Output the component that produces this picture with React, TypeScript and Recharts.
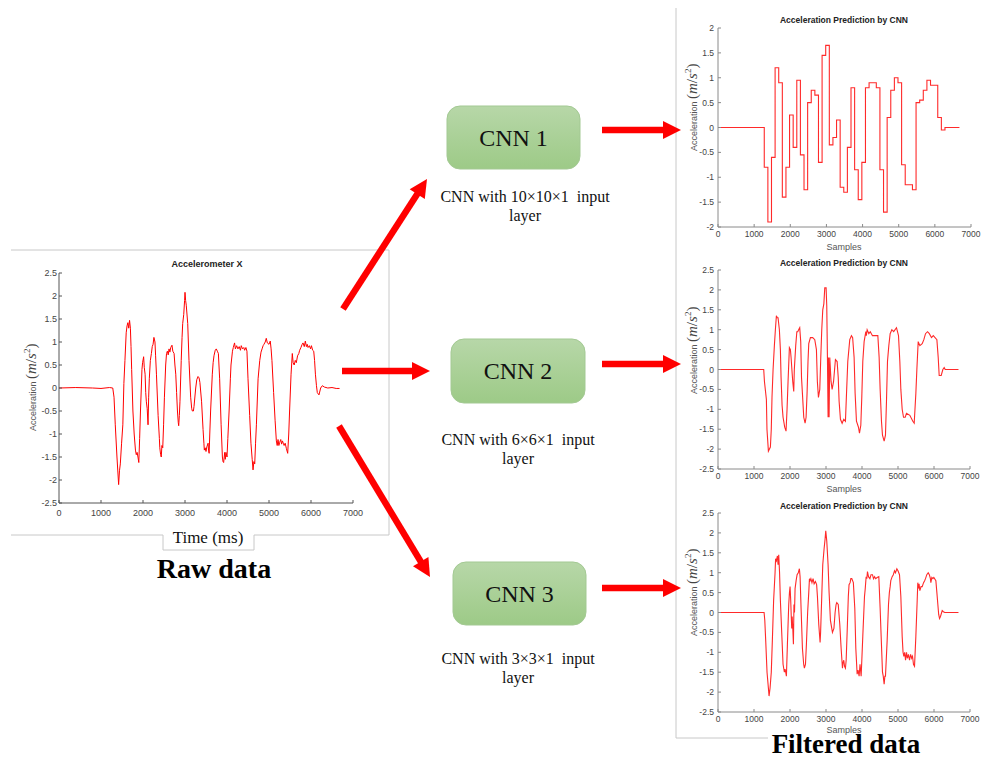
import React from 'react';
import { LineChart, Line, XAxis, YAxis } from 'recharts';

type Pt = [number, number];

const xTicks = [0, 1000, 2000, 3000, 4000, 5000, 6000, 7000];
const yTicksWide = [-2.5, -2, -1.5, -1, -0.5, 0, 0.5, 1, 1.5, 2, 2.5];
const yTicksNarrow = [-2, -1.5, -1, -0.5, 0, 0.5, 1, 1.5, 2];

const rawTitle = 'Accelerometer X';
const cnnTitle = 'Acceleration Prediction by CNN';
const cnnLabels = ['CNN 1', 'CNN 2', 'CNN 3'];
const cnnCaptions = ['CNN with 10\u00d710\u00d71  input', 'CNN with 6\u00d76\u00d71  input', 'CNN with 3\u00d73\u00d71  input'];

const rawSignal: Pt[] = [
  [0, 0], [400, 0.01], [800, 0], [1000, -0.01], [1200, 0.01], [1280, 0], [1310, -0.2], [1340, -0.8], [1380, -1.5], [1420, -2.1],
  [1440, -1.8], [1460, -1.65], [1490, -1.2], [1520, -0.8], [1545, 0.1], [1570, 0.6], [1590, 1.0], [1600, 1.2], [1620, 1.35], [1640, 1.42],
  [1660, 1.3], [1680, 1.47], [1700, 1.3], [1715, 0.9], [1730, 0.4], [1760, -0.5], [1790, -1.0], [1820, -1.35], [1840, -1.45], [1860, -1.4],
  [1880, -1.5], [1900, -1.62], [1920, -1.1], [1940, -0.5], [1960, 0.0], [1975, 0.4], [1990, 0.55], [2015, 0.68], [2030, 0.45], [2050, 0.3],
  [2065, -0.1], [2080, -0.3], [2100, -0.45], [2120, -0.8], [2135, -0.2], [2150, 0.2], [2175, 0.6], [2200, 0.75], [2220, 0.9], [2240, 0.95],
  [2260, 1.1], [2285, 1.0], [2300, 0.7], [2320, 0.3], [2360, -0.6], [2390, -1.1], [2400, -1.3], [2420, -1.45], [2435, -1.5], [2450, -1.25],
  [2470, -1.3], [2490, -0.8], [2510, -0.2], [2540, 0.5], [2560, 0.75], [2580, 0.8], [2600, 0.72], [2620, 0.85], [2640, 0.78], [2660, 0.88],
  [2690, 0.93], [2710, 0.8], [2740, 0.75], [2760, 0.5], [2780, 0.3], [2800, -0.1], [2820, -0.5], [2840, -0.75], [2850, -0.82], [2865, -0.6],
  [2880, -0.3], [2910, 0.6], [2930, 1.1], [2945, 1.4], [2970, 1.6], [2990, 1.9], [3000, 2.08], [3015, 1.9], [3030, 1.8], [3065, 1.4],
  [3095, 0.6], [3135, -0.2], [3160, -0.45], [3175, -0.5], [3200, -0.5], [3215, -0.4], [3255, 0.0], [3280, 0.18], [3310, 0.25], [3335, 0.22],
  [3355, 0.12], [3395, -0.3], [3430, -0.9], [3450, -1.2], [3460, -1.35], [3480, -1.3], [3500, -1.38], [3520, -1.28], [3550, -1.2], [3560, -1.35],
  [3575, -1.42], [3590, -1.0], [3610, -0.5], [3650, 0.3], [3670, 0.55], [3690, 0.7], [3720, 0.82], [3745, 0.85], [3770, 0.8], [3795, 0.75],
  [3825, 0.2], [3860, -0.8], [3890, -1.5], [3905, -1.6], [3920, -1.62], [3945, -1.4], [3960, -1.55], [3975, -1.4], [4000, -1.5], [4020, -1.1],
  [4050, -0.5], [4080, 0.2], [4095, 0.5], [4130, 0.8], [4150, 0.88], [4180, 0.98], [4200, 0.85], [4230, 0.92], [4260, 0.85], [4290, 0.9],
  [4320, 0.82], [4340, 0.92], [4370, 0.85], [4400, 0.88], [4420, 0.82], [4450, 0.88], [4475, 0.8], [4500, 0.2], [4540, -0.6], [4570, -1.2],
  [4600, -1.55], [4620, -1.78], [4640, -1.6], [4660, -1.65], [4680, -1.2], [4700, -0.8], [4740, 0.2], [4780, 0.6], [4810, 0.78], [4835, 0.85],
  [4860, 0.92], [4880, 0.95], [4910, 1.0], [4935, 1.08], [4960, 0.98], [5000, 0.95], [5030, 1.02], [5050, 0.85], [5070, 0.6], [5110, -0.1],
  [5145, -0.7], [5175, -1.15], [5195, -1.25], [5215, -1.12], [5235, -1.25], [5255, -1.18], [5280, -1.12], [5300, -1.22], [5320, -1.15], [5340, -1.2],
  [5360, -1.25], [5385, -1.2], [5415, -1.32], [5445, -1.42], [5470, -1.0], [5490, -0.5], [5525, 0.3], [5555, 0.75], [5575, 0.55], [5600, 0.5],
  [5625, 0.6], [5650, 0.55], [5680, 0.7], [5710, 0.75], [5730, 0.82], [5760, 0.88], [5790, 0.95], [5810, 0.98], [5840, 0.9], [5865, 1.02],
  [5890, 0.9], [5910, 0.95], [5930, 0.88], [5960, 0.92], [5990, 0.85], [6010, 0.92], [6040, 0.82], [6065, 0.8], [6085, 0.6], [6105, 0.3],
  [6130, 0.05], [6150, -0.1], [6190, -0.15], [6230, 0.0], [6270, 0.05], [6320, 0.02], [6400, 0.0], [6500, 0.01], [6600, -0.01], [6680, -0.01],
];

const cnn1Steps: Pt[] = [
  [0, 0], [1280, -0.8], [1380, -1.9], [1480, -0.6], [1580, 1.2], [1680, 0.9], [1780, -1.4], [1880, -0.8], [1980, 0.25], [2080, -0.4],
  [2180, 0.95], [2280, -0.55], [2380, -1.25], [2480, 0.5], [2580, 0.75], [2680, 0.65], [2780, -0.7], [2880, 1.45], [2980, 1.65], [3080, -0.35],
  [3180, -0.2], [3280, 0.15], [3380, -1.2], [3480, -1.3], [3580, -0.4], [3680, 0.8], [3780, -0.85], [3880, -1.45], [3980, -0.7], [4080, 0.8],
  [4180, 0.9], [4280, 0.9], [4380, 0.8], [4480, -0.85], [4580, -1.7], [4680, 0.2], [4780, 0.75], [4880, 1.0], [4980, 0.9], [5080, -0.75],
  [5180, -1.15], [5280, -1.15], [5380, -1.25], [5480, 0.5], [5580, 0.55], [5680, 0.75], [5780, 0.95], [5880, 0.85], [5980, 0.85], [6080, 0.2],
  [6180, -0.05], [6280, 0], [6680, 0],
];

const cnn2Output: Pt[] = [
  [0, 0], [1270, 0], [1290, -0.3], [1344, -0.75], [1360, -1.5], [1400, -2.05], [1455, -1.95], [1480, -1.5], [1500, -0.7], [1530, 0.0],
  [1566, 0.6], [1594, 1.0], [1622, 1.35], [1645, 1.3], [1668, 1.3], [1705, 1.0], [1733, 0.5], [1752, -0.2], [1780, -0.9], [1807, -1.2],
  [1853, -1.45], [1890, -1.55], [1918, -1.0], [1946, -0.3], [1983, 0.55], [2011, 0.5], [2030, 0.3], [2060, -0.1], [2076, -0.3], [2104, -0.55],
  [2120, 0.0], [2159, 0.6], [2190, 0.95], [2215, 0.95], [2240, 1.0], [2270, 1.05], [2298, 0.7], [2320, -0.2], [2345, -0.6], [2382, -1.2],
  [2419, -1.35], [2447, -1.2], [2474, -0.6], [2500, 0.2], [2521, 0.65], [2567, 0.8], [2630, 0.8], [2688, 0.75], [2734, 0.5], [2760, -0.3],
  [2790, -0.7], [2827, -0.5], [2855, 0.3], [2882, 1.0], [2910, 1.5], [2940, 1.65], [2966, 2.05], [3003, 2.05], [3021, 1.6], [3040, 0.3],
  [3058, -1.2], [3070, 0.3], [3086, -1.2], [3105, 0.3], [3140, -0.3], [3170, -0.5], [3210, -0.3], [3262, 0.25], [3309, 0.2], [3340, -0.2],
  [3364, -0.8], [3401, -1.25], [3448, -1.35], [3494, -1.25], [3540, -1.3], [3570, -0.6], [3605, 0.2], [3660, 0.75], [3707, 0.85], [3740, 0.8],
  [3781, 0.3], [3809, -0.6], [3846, -1.3], [3902, -1.45], [3930, -1.6], [3967, -1.4], [3994, -0.7], [4022, 0.2], [4059, 0.7], [4106, 0.95],
  [4120, 0.85], [4143, 1.0], [4190, 0.9], [4230, 0.95], [4291, 0.85], [4412, 0.85], [4440, 0.85], [4476, 0.3], [4504, -0.5], [4541, -1.3],
  [4569, -1.65], [4615, -1.8], [4652, -1.65], [4680, -0.8], [4708, 0.2], [4745, 0.6], [4782, 0.9], [4829, 1.0], [4880, 0.95], [4958, 1.05],
  [5014, 0.85], [5051, 0.2], [5079, -0.5], [5116, -1.0], [5153, -1.2], [5200, -1.2], [5236, -1.1], [5329, -1.15], [5412, -1.3], [5450, -1.35],
  [5496, -0.6], [5524, 0.0], [5561, 0.7], [5607, 0.6], [5672, 0.65], [5718, 0.75], [5764, 0.9], [5820, 0.95], [5870, 0.9], [5931, 0.8],
  [5980, 0.85], [6080, 0.75], [6117, 0.3], [6144, -0.15], [6200, -0.15], [6246, 0.0], [6283, 0.05], [6311, 0], [6680, 0],
];

const cnn3Output: Pt[] = [
  [0, 0], [600, 0], [1280, 0], [1300, -0.2], [1325, -0.7], [1362, -1.5], [1400, -1.9], [1418, -2.1], [1446, -1.9], [1480, -1.5],
  [1510, -0.7], [1545, 0.3], [1585, 1.0], [1600, 1.35], [1622, 1.3], [1650, 1.42], [1668, 1.2], [1687, 1.45], [1710, 1.0], [1733, 0.3],
  [1770, -0.5], [1807, -1.3], [1825, -1.4], [1844, -1.5], [1862, -1.42], [1881, -1.5], [1900, -1.6], [1928, -0.8], [1965, 0.2], [1985, 0.5],
  [2002, 0.65], [2020, 0.3], [2035, -0.1], [2048, -0.4], [2060, -0.1], [2080, -0.45], [2095, -0.8], [2110, 0.2], [2125, 0.0], [2141, 0.6],
  [2170, 0.8], [2197, 0.95], [2230, 1.0], [2261, 1.1], [2280, 0.9], [2308, 0.1], [2345, -0.9], [2380, -1.3], [2400, -1.4], [2430, -1.3],
  [2456, -0.8], [2490, 0.0], [2521, 0.5], [2540, 0.85], [2558, 0.8], [2580, 0.85], [2610, 0.75], [2641, 0.85], [2670, 0.72], [2706, 0.78],
  [2740, 0.7], [2762, 0.4], [2799, -0.3], [2836, -0.75], [2850, -0.5], [2882, 0.4], [2910, 1.2], [2947, 1.6], [2975, 1.85], [2993, 2.05],
  [3021, 1.8], [3058, 1.2], [3086, 0.5], [3123, -0.2], [3179, -0.5], [3220, -0.4], [3253, 0.0], [3280, 0.2], [3299, 0.25], [3340, 0.2],
  [3383, -0.3], [3420, -0.9], [3457, -1.4], [3475, -1.25], [3494, -1.2], [3515, -1.35], [3540, -1.4], [3560, -1.2], [3587, -0.5], [3620, 0.4],
  [3640, 0.7], [3670, 0.75], [3690, 0.85], [3716, 0.85], [3760, 0.75], [3800, 0.1], [3828, -0.9], [3865, -1.55], [3890, -1.45], [3920, -1.6],
  [3945, -1.3], [3976, -1.6], [3995, -1.2], [4022, -0.6], [4069, 0.4], [4090, 0.6], [4115, 0.9], [4135, 0.85], [4152, 1.03], [4180, 0.9],
  [4220, 0.85], [4250, 0.95], [4291, 0.95], [4320, 0.85], [4350, 0.9], [4380, 0.85], [4420, 0.88], [4467, 0.9], [4504, 0.1], [4532, -0.6],
  [4569, -1.5], [4590, -1.6], [4615, -1.8], [4635, -1.6], [4652, -1.6], [4699, -0.7], [4736, 0.2], [4760, 0.5], [4782, 0.65], [4800, 0.8],
  [4838, 0.9], [4870, 0.95], [4903, 1.05], [4930, 1.0], [4968, 1.1], [5000, 1.05], [5042, 0.95], [5079, 0.4], [5116, -0.6], [5140, -1.0],
  [5162, -1.1], [5185, -1.0], [5210, -1.2], [5236, -1.0], [5260, -1.15], [5290, -1.05], [5320, -1.2], [5350, -1.05], [5380, -1.15], [5403, -1.1],
  [5430, -1.3], [5459, -1.35], [5496, -0.6], [5533, 0.3], [5550, 0.75], [5561, 0.6], [5585, 0.72], [5607, 0.55], [5640, 0.65], [5672, 0.65],
  [5710, 0.75], [5740, 0.8], [5764, 0.85], [5800, 0.95], [5839, 1.0], [5870, 0.95], [5900, 0.85], [5913, 0.75], [5940, 0.88], [5970, 0.85],
  [5996, 0.88], [6052, 0.8], [6080, 0.5], [6107, 0.2], [6130, -0.05], [6154, -0.15], [6180, -0.1], [6228, 0.05], [6260, 0.02], [6300, 0],
  [6680, 0],
];

const SANS = '"Liberation Sans", Arial, Helvetica, sans-serif';
const SERIF = '"Liberation Serif", "Times New Roman", Times, serif';
const RED = '#ff0000';

interface ChartProps {
  series: Pt[];
  left: number;
  top: number;
  width: number;
  height: number;
  margin: { top: number; right: number; bottom: number; left: number };
  yAxisWidth: number;
  xAxisHeight: number;
  yDomain: [number, number];
  yTicks: number[];
  box: boolean;
  step?: boolean;
  axisColor: string;
  fontSize: number;
  xTickMargin: number;
  yTickMargin: number;
  strokeColor: string;
  strokeWidth: number;
}

function SignalChart(p: ChartProps) {
  const data = p.series.map(([t, v]) => ({ t, v }));
  const tickStyle = { fill: '#444', fontSize: p.fontSize, fontFamily: SANS };
  return (
    <div style={{ position: 'absolute', left: p.left, top: p.top, width: p.width, height: p.height }}>
      <LineChart width={p.width} height={p.height} data={data} margin={p.margin}>
        <XAxis
          dataKey="t"
          type="number"
          domain={[0, 7000]}
          ticks={xTicks}
          interval={0}
          allowDataOverflow
          height={p.xAxisHeight}
          tickSize={-3}
          tickMargin={p.xTickMargin}
          stroke={p.axisColor}
          tick={tickStyle}
        />
        <YAxis
          type="number"
          domain={p.yDomain}
          ticks={p.yTicks}
          interval={0}
          allowDataOverflow
          width={p.yAxisWidth}
          tickSize={-3}
          tickMargin={p.yTickMargin}
          stroke={p.axisColor}
          tick={tickStyle}
        />
        {p.box && (
          <XAxis
            xAxisId="top"
            orientation="top"
            type="number"
            domain={[0, 7000]}
            ticks={xTicks}
            interval={0}
            allowDataOverflow
            height={0}
            tickSize={-3}
            stroke={p.axisColor}
            tick={false}
          />
        )}
        {p.box && (
          <YAxis
            yAxisId="right"
            orientation="right"
            type="number"
            domain={p.yDomain}
            ticks={p.yTicks}
            interval={0}
            allowDataOverflow
            width={0}
            tickSize={-3}
            stroke={p.axisColor}
            tick={false}
          />
        )}
        <Line
          dataKey="v"
          type={p.step ? 'stepAfter' : 'linear'}
          stroke={p.strokeColor}
          strokeWidth={p.strokeWidth}
          dot={false}
          activeDot={false}
          isAnimationActive={false}
        />
      </LineChart>
    </div>
  );
}

function YLabel({ x, y }: { x: number; y: number }) {
  return (
    <text transform={`translate(${x},${y}) rotate(-90)`} fill="#444">
      <tspan fontFamily={SANS} fontSize={9} fill="#555">Acceleration </tspan>
      <tspan fontFamily={SERIF} fontSize={15}>(</tspan>
      <tspan fontFamily={SERIF} fontSize={15} fontStyle="italic">m</tspan>
      <tspan fontFamily={SERIF} fontSize={15}>/</tspan>
      <tspan fontFamily={SERIF} fontSize={15} fontStyle="italic">s</tspan>
      <tspan fontFamily={SERIF} fontSize={9} dy={-6}>2</tspan>
      <tspan fontFamily={SERIF} fontSize={15} dy={6}>)</tspan>
    </text>
  );
}

function Arrow({ x1, y1, x2, y2 }: { x1: number; y1: number; x2: number; y2: number }) {
  const ang = Math.atan2(y2 - y1, x2 - x1);
  const c = Math.cos(ang);
  const s = Math.sin(ang);
  const headLen = 18;
  const headHalf = 9;
  const bx = x2 - headLen * c;
  const by = y2 - headLen * s;
  const pts = [
    [x2, y2],
    [bx - headHalf * s, by + headHalf * c],
    [bx + headHalf * s, by - headHalf * c],
  ]
    .map((q) => q.join(','))
    .join(' ');
  return (
    <g>
      <line x1={x1} y1={y1} x2={bx + c} y2={by + s} stroke={RED} strokeWidth={6.5} />
      <polygon points={pts} fill={RED} />
    </g>
  );
}

function CnnBox({ x, y, w, h, label }: { x: number; y: number; w: number; h: number; label: string }) {
  return (
    <g>
      <rect x={x} y={y} width={w} height={h} rx={13} ry={13} fill="url(#cnnGrad)" stroke="#a3c993" strokeWidth={1} />
      <text x={x + w / 2} y={y + h / 2 + 8} textAnchor="middle" fontFamily={SERIF} fontSize={24} fill="#111">
        {label}
      </text>
    </g>
  );
}

function Caption({ cx, y, text }: { cx: number; y: number; text: string }) {
  return (
    <text textAnchor="middle" fontFamily={SERIF} fontSize={16} fill="#111" style={{ whiteSpace: 'pre' }}>
      <tspan x={cx} y={y}>{text}</tspan>
      <tspan x={cx} y={y + 19}>layer</tspan>
    </text>
  );
}

export default function App() {
  const rightCharts = [
    { series: cnn1Steps, top: 10, step: true, yDomain: [-2, 2] as [number, number], yTicks: yTicksNarrow },
    { series: cnn2Output, top: 252, step: false, yDomain: [-2.5, 2.5] as [number, number], yTicks: yTicksWide },
    { series: cnn3Output, top: 495, step: false, yDomain: [-2.5, 2.5] as [number, number], yTicks: yTicksWide },
  ];
  const rightTitleY = [23, 266, 509];
  const rightSamplesY = [250, 492, 733];
  const rightYLabelStart = [151, 394, 636];

  return (
    <div style={{ position: 'absolute', left: 0, top: 0, width: 989, height: 758, background: '#fff', overflow: 'hidden' }}>
      <SignalChart
        series={rawSignal}
        left={0}
        top={250}
        width={389}
        height={300}
        margin={{ top: 23, right: 36, bottom: 17, left: 0 }}
        yAxisWidth={59}
        xAxisHeight={30}
        yDomain={[-2.5, 2.5]}
        yTicks={yTicksWide}
        box={false}
        axisColor="#555"
        fontSize={9}
        xTickMargin={10}
        yTickMargin={5}
        strokeColor={RED}
        strokeWidth={1}
      />
      {rightCharts.map((c, i) => (
        <SignalChart
          key={i}
          series={c.series}
          left={676}
          top={c.top}
          width={313}
          height={240}
          margin={{ top: 18, right: i === 0 ? 18 : 19, bottom: 3, left: 0 }}
          yAxisWidth={42}
          xAxisHeight={20}
          yDomain={c.yDomain}
          yTicks={c.yTicks}
          box={true}
          step={c.step}
          axisColor="#8a8a8a"
          fontSize={8.5}
          xTickMargin={7}
          yTickMargin={7}
          strokeColor="#ff2a2a"
          strokeWidth={1.1}
        />
      ))}
      <svg width={989} height={758} style={{ position: 'absolute', left: 0, top: 0, pointerEvents: 'none' }}>
        <defs>
          <linearGradient id="cnnGrad" x1="0" y1="0" x2="0" y2="1">
            <stop offset="0%" stopColor="#b7d7a8" />
            <stop offset="100%" stopColor="#9dca87" />
          </linearGradient>
        </defs>

        {/* raw data frame */}
        <path d="M11,250 H389 V535 H254 V550 H163 V535 H11" fill="none" stroke="#c8c8c8" strokeWidth={1} />
        <text x={207} y={267} textAnchor="middle" fontFamily={SANS} fontWeight="bold" fontSize={9} fill="#222">
          {rawTitle}
        </text>
        <YLabel x={36} y={431} />
        <text x={208} y={543} textAnchor="middle" fontFamily={SERIF} fontSize={17} fill="#111">
          Time (ms)
        </text>
        <text x={214} y={578} textAnchor="middle" fontFamily={SERIF} fontWeight="bold" fontSize={28} fill="#000">
          Raw data
        </text>

        {/* right frame */}
        <path d="M676,8 V738 H768" fill="none" stroke="#c8c8c8" strokeWidth={1} />
        {rightTitleY.map((y, i) => (
          <text key={'t' + i} x={844} y={y} textAnchor="middle" fontFamily={SANS} fontWeight="bold" fontSize={8.5} fill="#222">
            {cnnTitle}
          </text>
        ))}
        {rightSamplesY.map((y, i) => (
          <text key={'s' + i} x={844} y={y} textAnchor="middle" fontFamily={SANS} fontSize={9} fill="#555">
            Samples
          </text>
        ))}
        {rightYLabelStart.map((y, i) => (
          <YLabel key={'y' + i} x={697} y={y} />
        ))}
        <text x={846} y={753} textAnchor="middle" fontFamily={SERIF} fontWeight="bold" fontSize={27} fill="#000">
          Filtered data
        </text>

        {/* arrows */}
        <Arrow x1={343} y1={309} x2={427} y2={179} />
        <Arrow x1={342} y1={371} x2={430} y2={371} />
        <Arrow x1={339} y1={426} x2={430} y2={577} />
        <Arrow x1={602} y1={130} x2={681} y2={130} />
        <Arrow x1={602} y1={364} x2={681} y2={364} />
        <Arrow x1={602} y1={588} x2={681} y2={588} />

        {/* CNN boxes */}
        <CnnBox x={447} y={106} w={133} h={63} label={cnnLabels[0]} />
        <CnnBox x={451} y={339} w={134} h={64} label={cnnLabels[1]} />
        <CnnBox x={453} y={562} w={133} h={63} label={cnnLabels[2]} />
        <Caption cx={525} y={202} text={cnnCaptions[0]} />
        <Caption cx={518} y={445} text={cnnCaptions[1]} />
        <Caption cx={518} y={664} text={cnnCaptions[2]} />
      </svg>
    </div>
  );
}
